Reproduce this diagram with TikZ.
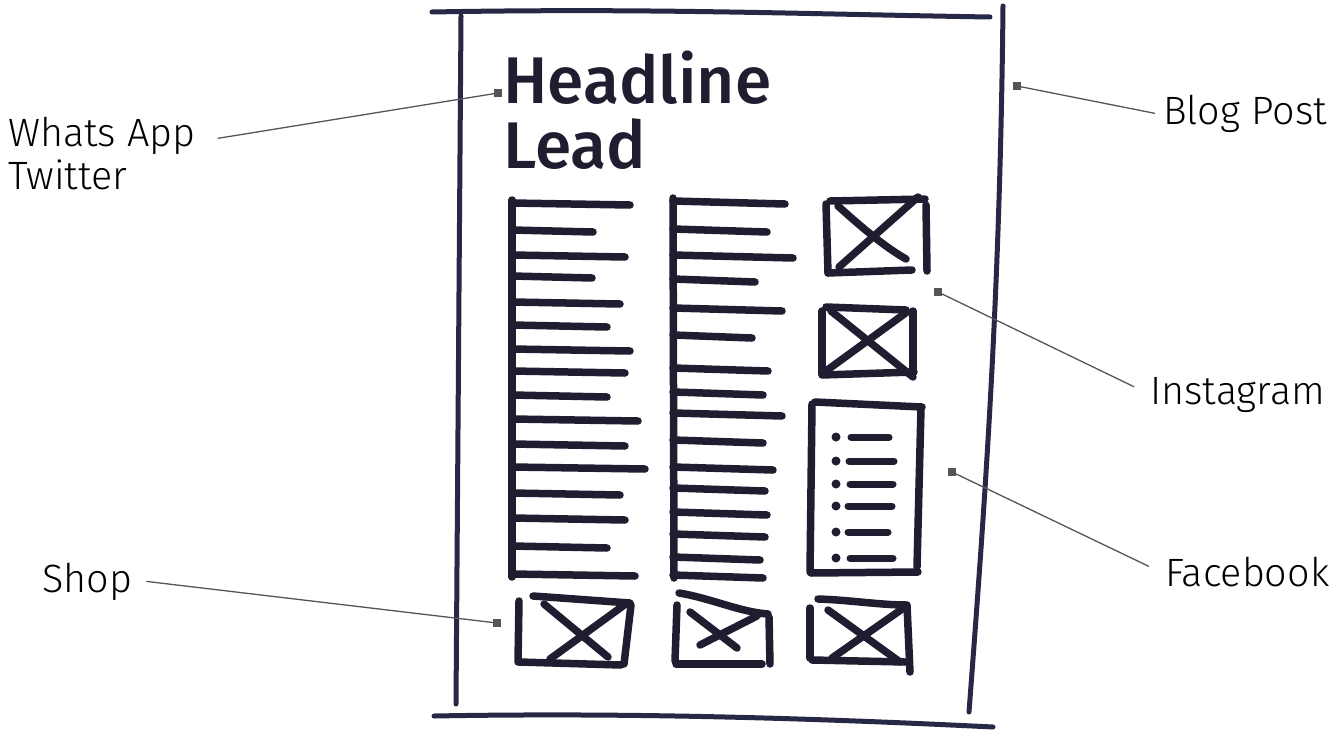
\documentclass[tikz,border=0pt]{standalone}
\usepackage{fontspec}
\setmainfont{Lato}
\newfontfamily\handfont{Fira Sans Medium}
\newfontfamily\labelfont{Fira Sans Light}
\definecolor{inkc}{HTML}{1E1E30}
\definecolor{pagec}{HTML}{262845}
\definecolor{callc}{HTML}{555555}
\tikzset{
  ink/.style={draw=inkc, line width=7.5pt, line cap=round, line join=round},
  pageline/.style={draw=pagec, line width=5pt, line cap=round},
  bullet/.style={circle, fill=inkc, inner sep=0pt, minimum size=9pt},
  marker/.style={rectangle, fill=callc, inner sep=0pt, minimum size=8pt},
  callout/.style={draw=callc, line width=1.3pt},
  lbl/.style={font=\labelfont\fontsize{39.5}{46}\selectfont, text=black, inner sep=0pt, align=left},
  hand/.style={anchor=base west, inner sep=0pt, text=inkc, font=\handfont\fontsize{66}{72}\selectfont},
}
\begin{document}
\begin{tikzpicture}[x=1pt, y=-1pt]
\useasboundingbox (0,0) rectangle (1336,731);

% page outline
\draw[pageline] (432,12) .. controls (650,8) and (800,14) .. (990,17);
\draw[pageline] (461,16) -- (456,704);
\draw[pageline] (1003,6) .. controls (1000,300) and (985,500) .. (969,712);
\draw[pageline] (434,716) .. controls (650,712) and (850,720) .. (993,727);

% headline
\node[hand] (head) at (503,103) {Headline};
\node[hand] (lead) at (503,168) {Lead};

% left text column
\draw[ink] (512,200) -- (512,577);
\foreach \y/\e in {203/630,230/593,255/625,276/592,302/620,325/607,349/630,371/625,395/607,419/638,444/625,467/645,493/620,518/625,546/607,574/635}
  \draw[ink] (512,\y) -- (\e,\y+2);

% middle text column
\draw[ink] (673,198) -- (674,578);
\foreach \y/\e in {201/785,229/767,255/793,279/755,308/782,335/752,368/768,392/763,413/782,440/763,467/773,488/765,512/767,534/765,557/760,575/763}
  \draw[ink] (673,\y) -- (\e,\y+3);

% image box 1
\draw[ink] (830,201) -- (925,199);
\draw[ink] (826,204) -- (828,273);
\draw[ink] (828,273) -- (912,270);
\draw[ink] (926,205) -- (927,271);
\draw[ink] (838,206) .. controls (870,235) and (890,250) .. (906,259);
\draw[ink] (918,197) -- (839,267);

% image box 2
\draw[ink] (826,307) -- (906,310);
\draw[ink] (822,311) -- (822,374);
\draw[ink] (822,375) -- (914,372);
\draw[ink] (913,311) -- (913,369);
\draw[ink] (831,311) -- (913,377);
\draw[ink] (907,312) -- (826,371);

% list box
\draw[ink] (812,404) -- (810,572);
\draw[ink] (815,402) -- (922,407);
\draw[ink] (921,408) -- (917,567);
\draw[ink] (811,573) -- (918,572);
\foreach \i/\y/\a/\b in {1/437/851/889,2/461/849/894,3/484/850/893,4/506/848/892,5/532/848/888,6/558/850/893}{
  \node[bullet] (b\i) at (836,\y) {};
  \draw[ink, line width=7pt] (\a,\y) -- (\b,\y);
}

% bottom image boxes
\draw[ink] (519,601) -- (518,662);
\draw[ink] (533,596) -- (630,603);
\draw[ink] (631,605) -- (624,664);
\draw[ink] (519,662) -- (621,665);
\draw[ink] (544,604) -- (608,657);
\draw[ink] (627,603) -- (550,659);

\draw[ink] (677,605) -- (675,661);
\draw[ink] (679,593) .. controls (710,598) and (740,612) .. (768,614);
\draw[ink] (769,617) -- (770,664);
\draw[ink] (676,664) -- (762,664);
\draw[ink] (690,612) -- (737,648);
\draw[ink] (757,616) -- (700,645);

\draw[ink] (810,608) -- (810,658);
\draw[ink] (818,599) .. controls (850,600) and (880,605) .. (906,605);
\draw[ink] (907,605) -- (910,672);
\draw[ink] (812,660) -- (905,662);
\draw[ink] (828,610) -- (900,662);
\draw[ink] (905,607) -- (832,658);

% callout markers
\node[marker] (mwa) at (498,93) {};
\node[marker] (mblog) at (1017,86) {};
\node[marker] (minsta) at (938,292) {};
\node[marker] (mfb) at (952,472) {};
\node[marker] (mshop) at (497,623) {};

% labels
\node[lbl, anchor=base west] (wa) at (8,146) {Whats App};
\node[lbl, anchor=base west] (tw) at (8,189) {Twitter};
\node[lbl, anchor=base west] (blog) at (1163,124) {Blog Post};
\node[lbl, anchor=base west] (insta) at (1150,404) {Instagram};
\node[lbl, anchor=base west] (fb) at (1165,586) {Facebook};
\node[lbl, anchor=base west] (shop) at (42,592) {Shop};

% callout lines
\draw[callout] ([xshift=22pt,yshift=-3pt]wa.east) -- (mwa.center);
\draw[callout] ([xshift=-8pt]blog.west) -- (mblog.center);
\draw[callout] ([xshift=-16pt,yshift=-10pt]insta.north west) -- (minsta.center);
\draw[callout] ([xshift=-16pt,yshift=-10pt]fb.north west) -- (mfb.center);
\draw[callout] ([xshift=14pt]shop.east) -- (mshop.center);
\end{tikzpicture}
\end{document}
